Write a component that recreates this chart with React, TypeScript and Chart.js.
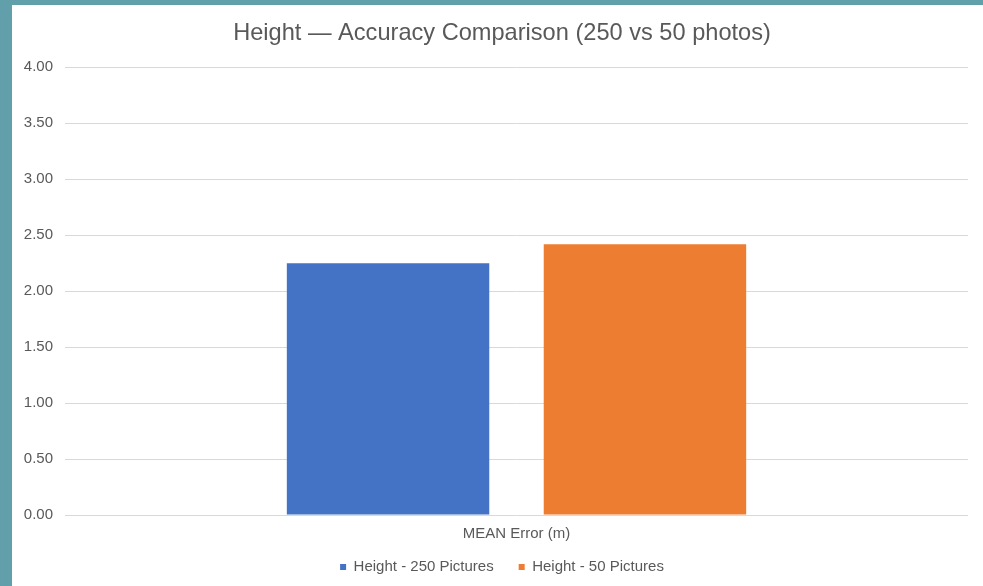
import React, { useEffect, useRef } from "react";
import { Chart, registerables } from "chart.js";

Chart.register(...registerables);

const categories = ["MEAN Error (m)"];
const seriesNames = ["Height - 250 Pictures", "Height - 50 Pictures"];
const series250 = [2.25];
const series50 = [2.42];
const yTickLabels = ["0.00", "0.50", "1.00", "1.50", "2.00", "2.50", "3.00", "3.50", "4.00"];
const titleText = "Height — Accuracy Comparison (250 vs 50 photos)";

const FONT = "'Liberation Sans', Arial, Helvetica, sans-serif";
const TEXT = "#595959";

// widen the label clip areas of the axes so their labels are not cut off
const unclipLabels = {
  id: "unclipLabels",
  afterLayout(chart: any) {
    const x = chart.scales.x;
    const y = chart.scales.y;
    if (x) x.bottom = chart.height;
    if (y) y.left = 0;
  },
};

export default function App() {
  const ref = useRef<HTMLCanvasElement | null>(null);

  useEffect(() => {
    if (!ref.current) return;
    const chart = new Chart(ref.current, {
      type: "bar",
      data: {
        labels: categories,
        datasets: [
          {
            label: seriesNames[0],
            data: series250,
            backgroundColor: "#4472C4",
            categoryPercentage: 0.569,
            barPercentage: 0.788,
          },
          {
            label: seriesNames[1],
            data: series50,
            backgroundColor: "#ED7D31",
            categoryPercentage: 0.569,
            barPercentage: 0.788,
          },
        ],
      },
      plugins: [unclipLabels],
      options: {
        responsive: false,
        animation: false,
        layout: { padding: { left: 24, right: 15, top: 0, bottom: 1.5 } },
        plugins: {
          title: {
            display: true,
            text: titleText,
            color: TEXT,
            font: { family: FONT, size: 23.6, weight: "normal" },
            padding: { top: 14, bottom: 20 },
          },
          legend: {
            position: "bottom",
            labels: {
              color: TEXT,
              font: { family: FONT, size: 15 },
              boxWidth: 6,
              boxHeight: 6,
              padding: 25,
            },
          },
          tooltip: { enabled: false },
        },
        scales: {
          x: {
            grid: { display: false, drawTicks: false },
            border: { display: false },
            ticks: { color: TEXT, font: { family: FONT, size: 15 }, padding: 10 },
            afterFit: (s: any) => {
              s.height = 19.5;
            },
          },
          y: {
            min: 0,
            max: 4,
            grid: { color: "#d9d9d9", lineWidth: 1, drawTicks: false },
            border: { display: false },
            ticks: {
              stepSize: 0.5,
              color: TEXT,
              font: { family: FONT, size: 15 },
              padding: 12,
              callback: (_v: any, i: number) => yTickLabels[i],
            },
            afterFit: (s: any) => {
              s.width = 29;
            },
          },
        },
      },
    });
    return () => chart.destroy();
  }, []);

  return (
    <div
      style={{
        position: "fixed",
        left: 0,
        top: 0,
        width: 983,
        height: 586,
        background: "#619FAB",
        overflow: "hidden",
      }}
    >
      <div
        style={{
          position: "absolute",
          left: 12,
          top: 5,
          width: 971,
          height: 581,
          background: "#ffffff",
        }}
      >
        <canvas ref={ref} width={971} height={581} style={{ display: "block", width: 971, height: 581 }} />
      </div>
    </div>
  );
}
